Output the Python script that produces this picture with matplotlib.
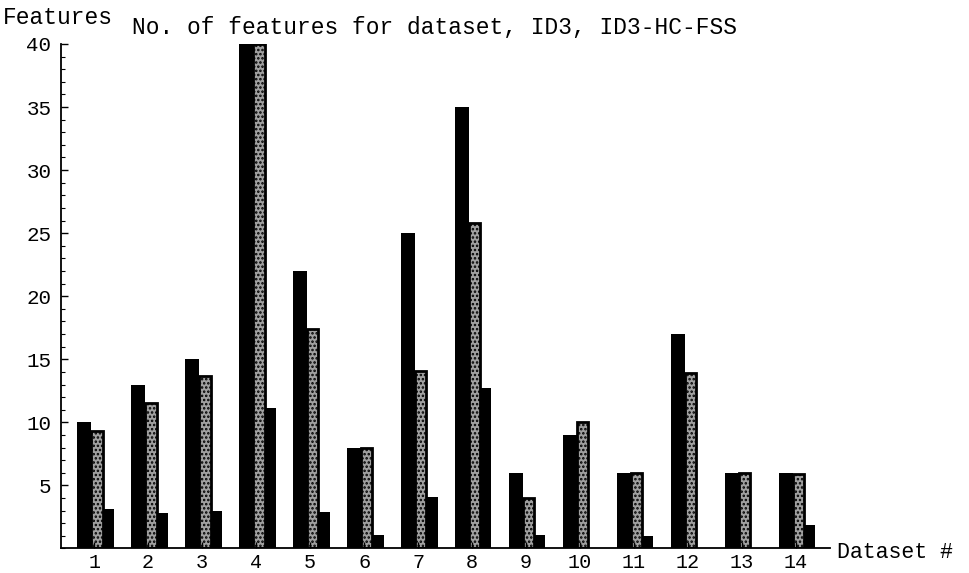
import numpy as np
import matplotlib.pyplot as plt
from matplotlib.ticker import MultipleLocator

plt.rcParams['font.family'] = ['Liberation Mono', 'DejaVu Sans Mono']
plt.rcParams['hatch.linewidth'] = 1.2

# values
datasets = list(range(1, 15))
n_dataset = [10, 13, 15, 40, 22, 8, 25, 35, 6, 9, 6, 17, 6, 6]
n_id3 = [9.3, 11.5, 13.7, 40, 17.4, 8, 14.1, 25.8, 4.0, 10.0, 6, 13.9, 6, 5.9]
n_hcfss = [3.1, 2.8, 3.0, 11.1, 2.9, 1.1, 4.1, 12.7, 1.1, 0, 1.0, 0, 0, 1.9]
y_ticks = [5, 10, 15, 20, 25, 30, 35, 40]

fig = plt.figure(figsize=(9.69, 5.73), dpi=100)
ax = fig.add_axes([0.063, 0.0428, 0.7935, 0.8805])

x = np.array(datasets)
ax.bar(x - 0.31, n_dataset, width=0.26, align='edge', color='black', linewidth=0)
ax.bar(x - 0.05, n_id3, width=0.205, align='edge', facecolor='#a0a0a0',
       edgecolor='black', hatch='....', linewidth=2)
ax.bar(x + 0.155, n_hcfss, width=0.205, align='edge', color='black', linewidth=0)

ax.set_xlim(0.386, 14.63)
ax.set_ylim(0, 40)
ax.spines['top'].set_visible(False)
ax.spines['right'].set_visible(False)
ax.spines['left'].set_linewidth(1.3)
ax.spines['bottom'].set_linewidth(1.3)

ax.set_xticks(datasets)
ax.set_yticks(y_ticks)
ax.yaxis.set_minor_locator(MultipleLocator(1))
ax.tick_params(axis='y', which='major', direction='in', length=5, width=1, labelsize=15, pad=7)
ax.tick_params(axis='y', which='minor', direction='in', length=3, width=0.8)
ax.tick_params(axis='x', which='major', direction='in', length=4, width=1, labelsize=14.5, pad=3)

fig.text(3 / 969, 1 - 17 / 573, 'Features', fontsize=16.5, va='center', ha='left')
fig.text(132 / 969, 1 - 28 / 573, 'No. of features for dataset, ID3, ID3-HC-FSS',
         fontsize=16.5, va='center', ha='left')
fig.text(837 / 969, 1 - 553 / 573, 'Dataset #', fontsize=15.5, va='center', ha='left')

fig.savefig('out.png', dpi=100)
